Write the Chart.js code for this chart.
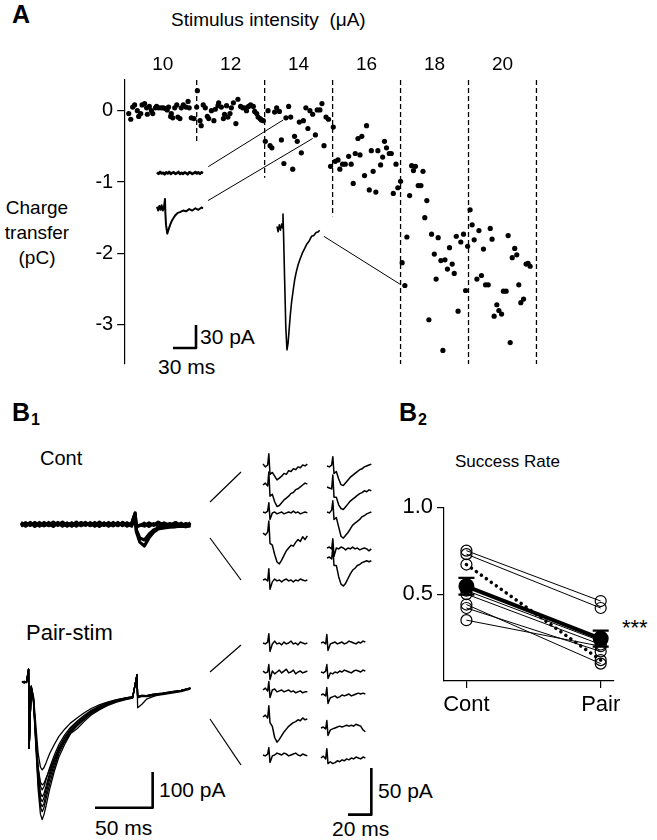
<!DOCTYPE html>
<html>
<head>
<meta charset="utf-8">
<script src="https://cdn.jsdelivr.net/npm/chart.js@4.4.1/dist/chart.umd.min.js"></script>
<style>
  body { margin: 0; width: 657px; height: 840px; position: relative; background: #fff; overflow: hidden;
         font-family: "Liberation Sans", Arial, sans-serif; color: #000; }
  canvas { position: absolute; }
  .t { position: absolute; line-height: 1; white-space: pre; }
  .b { font-weight: bold; }
</style>
</head>
<body>
<div class="t b" style="left:12px;top:2px;font-size:25px">A</div>
<div class="t" style="left:171px;top:10px;font-size:19px">Stimulus intensity  (μA)</div>
<div class="t" style="left:0;top:195px;width:74px;text-align:center;font-size:19px;line-height:25px">Charge
transfer
(pC)</div>
<div class="t" style="left:200px;top:326px;font-size:21px">30 pA</div>
<div class="t" style="left:158px;top:356px;font-size:21px">30 ms</div>

<div class="t b" style="left:12px;top:400px;font-size:25px">B</div>
<div class="t b" style="left:31px;top:412px;font-size:16px">1</div>
<div class="t" style="left:40px;top:448px;font-size:20px">Cont</div>
<div class="t" style="left:26px;top:622px;font-size:22px">Pair-stim</div>
<div class="t" style="left:159px;top:779px;font-size:21px">100 pA</div>
<div class="t" style="left:95px;top:817px;font-size:21px">50 ms</div>
<div class="t" style="left:378px;top:780px;font-size:21px">50 pA</div>
<div class="t" style="left:332px;top:818px;font-size:21px">20 ms</div>

<div class="t b" style="left:399px;top:400px;font-size:25px">B</div>
<div class="t b" style="left:418px;top:412px;font-size:16px">2</div>
<div class="t" style="left:455px;top:453px;font-size:17px">Success Rate</div>
<div class="t" style="left:622px;top:617px;font-size:22px">***</div>

<svg width="657" height="840" style="position:absolute;left:0;top:0">
  <g stroke="#000" stroke-width="1.2">
    <line x1="210" y1="502" x2="241" y2="472"/>
    <line x1="210" y1="538" x2="241" y2="580"/>
    <line x1="210" y1="672" x2="241" y2="645"/>
    <line x1="210" y1="719" x2="241" y2="765"/>
  </g>
</svg>

<canvas id="chartA" width="545" height="380" style="left:0;top:0"></canvas>
<canvas id="chartB2" width="235" height="240" style="left:390px;top:490px"></canvas>

<script>
Chart.defaults.font.family = '"Liberation Sans", Arial, sans-serif';
Chart.defaults.color = '#000';

// ---- A: charge transfer per trial, blocks of 30 trials per intensity
const intensity = [10, 12, 14, 16, 18, 20];
const blockEdges = [30, 60, 90, 120, 150, 180];
const edgeBottom = [-0.45, -0.94, -1.48, -3.55, -3.55, -3.55];
const chargeTicks = [0, -1, -2, -3];

const trial10 = [0,0.9,1.75,2.6,3.8,4.4,5.3,5.9,7.0,7.9,8.2,9.1,10.0,10.6,11.8,12.3,13.2,14.4,15.3,16.2,17.0,17.6,18.5,18.8,19.4,20.3,21.2,21.7,22.6,23.2,24.1,25.3,26.2,26.7,27.6,28.8];
const charge10 = [-0.04,-0.12,0.05,0.08,0.0,-0.08,-0.04,0.08,0.10,0.04,-0.05,0.06,0.0,-0.04,0.04,0.06,0.04,0.04,0.04,0.03,0.01,0.05,-0.08,-0.04,-0.10,0.04,0.08,-0.09,-0.11,0.04,0.08,0.05,0.13,0.04,-0.10,-0.11];
const trial12 = [30.0,30.3,31.5,32.0,32.9,33.8,34.7,35.3,36.5,37.6,38.2,39.4,39.7,40.9,41.8,42.3,43.2,43.8,44.7,45.3,46.2,47.3,48.2,49.4,50.3,51.2,52.0,52.9,53.8,55.0,55.6,56.5,57.1,58.0,58.5,59.4];
const charge12 = [0.05,0.28,-0.14,-0.21,0.08,0.04,-0.08,-0.11,0.0,-0.14,0.02,0.07,0.11,0.05,-0.11,-0.05,0.07,-0.09,-0.04,0.04,0.11,-0.18,0.16,0.06,0.04,0.04,0.0,0.06,0.08,0.06,-0.01,-0.04,-0.09,-0.11,-0.13,-0.14];
const trial14 = [60.3,61.5,62.4,63.2,64.4,65.3,66.5,67.4,68.5,69.4,70.6,71.5,72.4,73.2,74.4,75.3,76.2,77.1,78.2,79.1,80.0,81.2,82.4,83.2,84.4,85.3,86.2,87.1,88.2,89.1];
const charge14 = [-0.43,0.0,-0.49,-0.52,-0.02,0.04,-0.01,-0.41,-0.74,-0.10,0.06,-0.09,-0.82,-0.36,-0.43,-0.16,-0.59,-0.14,0.04,-0.25,0.0,-0.05,-0.34,0.01,0.01,0.10,-0.49,-0.09,-0.12,-0.78];
const trial16 = [90.3,91.2,92.4,93.2,94.4,95.6,97.1,98.2,99.1,100.0,101.2,102.1,102.9,104.1,105.0,106.2,107.1,107.9,109.1,110.0,111.2,112.1,112.9,113.8,115.0,115.9,116.8,118.0,118.8,120.0];
const charge16 = [-0.23,-0.71,-0.69,-0.82,-0.75,-0.75,-0.64,-0.75,-1.02,-0.60,-0.39,-0.62,-0.36,-0.91,-0.21,-1.11,-0.56,-0.85,-1.14,-0.56,-0.76,-0.65,-0.43,-0.52,-0.60,-0.60,-1.16,-0.75,-1.08,-0.99];
const trial18 = [120.7,121.9,122.8,124.0,124.9,125.7,126.6,127.8,129.0,129.9,130.7,131.6,132.5,133.7,134.9,135.7,136.6,137.8,138.7,139.6,140.7,141.6,142.8,143.7,144.6,145.4,146.6,147.8,148.7,149.6];
const charge18 = [-2.13,-2.45,-1.77,-1.19,-0.77,-0.84,-0.78,-1.05,-1.05,-0.85,-1.50,-1.26,-2.93,-1.73,-2.01,-2.36,-1.78,-2.10,-3.36,-2.09,-2.22,-1.92,-2.15,-2.28,-1.76,-2.81,-1.84,-1.73,-2.52,-1.90];
const trial20 = [150.7,151.6,152.5,153.7,154.6,155.7,156.6,157.5,158.7,159.6,160.4,161.3,162.5,163.4,164.6,165.4,166.6,167.5,168.4,169.3,170.4,171.3,172.2,173.1,174.3,175.4,176.3,177.2];
const charge20 = [-1.39,-1.60,-1.81,-2.36,-1.68,-2.31,-1.94,-2.44,-2.44,-1.65,-1.80,-2.88,-2.72,-2.80,-2.85,-2.53,-2.53,-1.75,-3.25,-2.06,-1.93,-2.02,-2.44,-2.69,-2.64,-2.15,-2.14,-2.18];

// links from example traces to their trials [trialFrom, pCFrom, trialTo, pCTo]
const linkA = [[35.1, -0.785, 68.2, -0.13], [35.0, -1.26, 81.2, -0.39], [86.1, -1.76, 119.7, -2.43]];

// example traces in A (ms, pA)
const tFail = [0,2,4,6,8,10,12,14,16,18,20,22,24,26,28,30,32,34,36,38,40,42,44,46,48,50,52,54,56,58,60];
const iFail = [1,-1,1.5,-0.5,0.5,-1.5,1,-0.5,1.5,-1,0.5,1,-1,0,1.5,-1,0.5,-1,1,0,-1.5,1,0.5,-1,0,1.5,-0.5,1,-1,1,0];
const tSmallA = [0,1.5,3,4.5,6,7.5,9,10.4,10.9,11.8,13.4,15,17,19,21.3,24,27,30,34,38,42,46,50,54,58,60];
const iSmallA = [2,-3,3,-2,4,-3,1,12,-6,-22,-33,-28,-22,-17,-13,-9,-6,-5,-3,-4,-1,-3,0,-2,1,0];
const tLargeA = [0,1.5,3,4.5,6,7.2,7.8,8.6,10,11.5,13,14.5,16,17.5,19,21,23,25,27.5,30,33,36,39,42,45,48,51,54,55.5];
const iLargeA = [2,-5,4,-3,5,0,18,-10,-70,-130,-159,-150,-130,-112,-97,-82,-68,-58,-48,-41,-33,-27,-21,-17,-11,-10,-6,-5,-3];

// ---- B1: overlaid traces (ms, pA)
const contT = [0,4,8,12,16,20,24,28,32,36,40,44,48,52,56,60,64,68,72,76,80,84,88,92,96,99,100,103,107,111,115,119,124,129,134,139,143,147];
const contA = [4,-5,4,-3,5,-4,2,-6,5,-3,3,-5,4,-2,5,-4,3,-6,3,-4,5,-3,4,-5,2,32,-20,-50,-61,-38,-22,-13,-10,-8,-7,-5,-7,-4];
const contB = [-4,4,-3,5,-5,3,-4,4,-2,6,-4,3,-5,3,-3,4,-5,2,-3,5,-4,3,-2,4,-3,28,-15,-38,-44,-28,-16,-10,-7,-6,-4,-6,-2,-5];
const contC = [5,-3,5,-6,2,-4,5,-3,4,-5,3,-4,6,-4,2,-3,5,-3,4,-5,3,-4,5,-2,3,30,-6,-4,3,-6,2,-5,4,-3,5,-4,2,-3];
const contD = [-5,4,-2,4,-4,5,-3,6,-3,2,-5,4,-3,5,-2,4,-4,6,-3,2,-4,5,-4,3,-5,25,-8,-2,-5,4,-3,6,-4,2,-5,3,-6,4];

const pairT = [0,2,4,5.7,6.2,8,10,12,14,16,17.5,19,21,24,28,32,37,42,48,54,60,67,74,82,90,96,99.7,100.3,104,108,114,122,130,138,146];
const pair1 = [2,-3,1,36,-186,-15,-60,-180,-300,-370,-385,-372,-345,-300,-250,-210,-175,-145,-130,-110,-92,-78,-66,-56,-49,-45,20,-44,-40,-41,-38,-35,-31,-27,-20];
const pair2 = [-2,2,0,36,-186,-12,-55,-170,-285,-350,-363,-352,-325,-285,-240,-200,-168,-142,-122,-104,-88,-75,-63,-54,-47,-43,20,-42,-39,-40,-36,-33,-29,-25,-18];
const pair3 = [1,-1,2,36,-186,-14,-50,-160,-265,-325,-335,-325,-300,-262,-222,-188,-158,-135,-116,-99,-84,-71,-61,-52,-46,-42,20,-41,-38,-39,-35,-32,-28,-24,-17];
const pair4 = [0,2,-2,36,-186,-10,-45,-145,-240,-292,-302,-294,-272,-240,-205,-175,-148,-127,-109,-93,-79,-67,-58,-50,-44,-41,20,-40,-37,-38,-34,-31,-27,-23,-16];
const pair5 = [-1,1,2,36,-186,-16,-48,-150,-240,-280,-288,-284,-268,-245,-215,-190,-165,-142,-122,-104,-88,-74,-63,-54,-48,-44,20,-72,-62,-48,-40,-33,-28,-24,-18];
const pair6 = [2,0,-1,36,-186,-12,-40,-120,-200,-238,-246,-240,-225,-200,-175,-152,-132,-115,-100,-86,-74,-64,-56,-49,-44,-41,20,-40,-37,-38,-34,-31,-27,-23,-17];
const pair7 = [0,-2,1,36,-186,-13,-52,-165,-275,-338,-349,-340,-312,-272,-230,-194,-163,-139,-119,-101,-85,-72,-61,-53,-46,-43,20,-42,-39,-40,-36,-33,-29,-25,-18];
const pair8 = [1,0,-1,36,-186,-14,-48,-152,-255,-310,-321,-313,-290,-254,-215,-182,-154,-131,-112,-96,-81,-69,-59,-51,-45,-42,20,-41,-38,-39,-35,-32,-28,-24,-17];

// ---- B1: single sweeps, 5 per column (ms, pA)
const sweepT = [0,2,4,5,6,8,10,12,14,16,18,20,22,24,26,28,30,32,34,36,38];
const contCol1 = [
  [1,-2,0,12,-10,-8,-12,-16,-14,-12,-9,-10,-6,-7,-4,-5,-2,-3,0,-1,1],
  [0,2,-1,14,-12,-10,-18,-23,-22,-19,-16,-14,-12,-9,-8,-5,-4,-2,0,2,1],
  [0,-1,1,10,-8,-1,0,-2,-1,0,-2,-1,0,-1,1,-1,0,-2,-1,0,-1],
  [1,-1,2,14,-10,-12,-22,-30,-32,-28,-23,-18,-15,-12,-13,-9,-6,-8,-3,-6,-2],
  [0,1,-1,12,-10,-2,1,-1,0,-2,0,1,-1,0,-2,0,-1,1,0,-1,0]
];
const contCol2 = [
  [0,-1,1,10,-8,-6,-14,-20,-21,-18,-15,-12,-10,-8,-6,-4,-3,-1,0,1,2],
  [1,0,-1,14,-10,-10,-18,-22,-23,-20,-17,-14,-12,-10,-8,-6,-5,-3,-4,-2,-3],
  [0,-1,2,12,-8,-6,-16,-26,-28,-25,-22,-18,-14,-12,-10,-8,-5,-4,-2,-1,0],
  [0,1,-1,10,-9,0,-1,1,0,-2,0,-1,1,-1,0,-2,-1,0,-1,-3,-1],
  [0,1,-1,12,-8,-8,-20,-28,-30,-27,-22,-17,-13,-11,-8,-7,-5,-4,-3,-4,-3]
];
const pairCol1 = [
  [0,-1,1,10,-9,-1,2,-1,0,-2,1,-1,0,2,-1,0,-2,1,0,-1,0],
  [1,-1,0,8,-8,1,-2,0,2,-1,1,3,-1,0,2,-2,0,1,-1,0,1],
  [0,2,-1,9,-8,0,1,-2,-1,0,-2,-1,0,-2,-1,-3,-2,-1,-3,-2,-2],
  [0,2,-1,12,-6,-10,-22,-27,-24,-20,-16,-13,-10,-8,-6,-5,-3,-4,-1,-3,-2],
  [0,-1,1,8,-8,-1,0,2,1,0,2,1,-1,0,1,2,0,-1,1,0,-1]
];
const pairCol2 = [
  [0,1,-1,9,-8,-1,0,1,-1,0,1,-1,0,2,1,0,-1,1,0,2,1],
  [0,-1,1,8,-7,-1,-2,0,-1,1,0,2,1,0,-1,1,2,1,0,2,1],
  [0,1,-1,8,-9,-3,-2,-1,-3,-2,0,-1,0,1,-1,0,1,2,1,2,1],
  [0,1,-1,8,-8,-2,-1,0,1,2,1,2,3,2,3,2,4,3,2,-2,-4],
  [0,2,-1,10,-6,-4,-6,-5,-3,-4,-2,-3,-1,-2,0,-1,1,0,-1,1,0]
];

// ---- B2: success rate
const groups = ['Cont', 'Pair'];
const rateCont = [0.75, 0.73, 0.52, 0.50, 0.44, 0.42, 0.35];
const ratePair = [0.46, 0.42, 0.23, 0.21, 0.10, 0.17, 0.20];
const dottedCell = [0.67, 0.12];
const meanRate = [0.545, 0.244];
const semRate = [0.048, 0.046];

// ================= drawing =================
const blocks = [[trial10, charge10], [trial12, charge12], [trial14, charge14],
                [trial16, charge16], [trial18, charge18], [trial20, charge20]];
const blockCentres = blockEdges.map(e => e - 15);
const yMaxA = 0.43, yMinA = -3.55;

const dsA = [];
const dots = [];
blocks.forEach(([xs, ys]) => xs.forEach((x, i) => dots.push({ x: x, y: ys[i] })));
dsA.push({ data: dots, pointRadius: 2.6, pointBackgroundColor: '#000', pointBorderWidth: 0 });
blockEdges.forEach((e, i) => dsA.push({
  data: [{ x: e, y: yMaxA }, { x: e, y: edgeBottom[i] }], showLine: true, pointRadius: 0,
  borderColor: '#000', borderWidth: 1.3, borderDash: [5, 3]
}));
linkA.forEach(l => dsA.push({
  data: [{ x: l[0], y: l[1] }, { x: l[2], y: l[3] }], showLine: true, pointRadius: 0,
  borderColor: '#000', borderWidth: 1
}));

new Chart(document.getElementById('chartA'), {
  type: 'scatter',
  data: { datasets: dsA },
  options: {
    animation: false, responsive: false, events: [],
    layout: { padding: { left: 0, top: 0, right: 3.2, bottom: 4.4 } },
    plugins: { legend: { display: false }, tooltip: { enabled: false } },
    scales: {
      x: { type: 'linear', min: -2, max: 182, display: false },
      xTop: {
        type: 'linear', position: 'top', min: -2, max: 182,
        grid: { display: false, drawTicks: false }, border: { display: false },
        afterBuildTicks: a => { a.ticks = blockCentres.map(v => ({ value: v })); },
        ticks: { font: { size: 19 }, padding: 4, autoSkip: false, maxRotation: 0,
                 callback: (v, i) => String(intensity[i]) },
        afterFit: a => { a.height = 80; }
      },
      y: {
        type: 'linear', min: yMinA, max: yMaxA,
        afterBuildTicks: a => { a.ticks = chargeTicks.map(v => ({ value: v })); },
        ticks: { font: { size: 20 }, padding: 4, callback: v => String(v) },
        grid: { drawOnChartArea: false, tickLength: 7, color: '#000', lineWidth: 1.2 },
        border: { color: '#000', width: 1.2 },
        afterFit: a => { a.width = 124.2; }
      }
    }
  }
});

// small chart for a trace: (x0,y0) = page pixel of (0 ms, 0 pA), sx/sy = px per unit
function traceChart(x0, y0, sx, sy, xr, yr, series, width) {
  const m = 4;
  const c = document.createElement('canvas');
  const w = Math.ceil((xr[1] - xr[0]) * sx) + 2 * m;
  const h = Math.ceil((yr[1] - yr[0]) * sy) + 2 * m;
  c.width = w; c.height = h;
  c.style.left = (x0 + xr[0] * sx - m) + 'px';
  c.style.top = (y0 - yr[1] * sy - m) + 'px';
  document.body.appendChild(c);
  new Chart(c, {
    type: 'scatter',
    data: { datasets: series.map(s => ({
      data: s.t.map((t, i) => ({ x: t, y: s.v[i] })), showLine: true, pointRadius: 0,
      borderColor: '#000', borderWidth: s.w || width, clip: false, borderJoinStyle: 'round'
    })) },
    options: {
      animation: false, responsive: false, events: [],
      layout: { padding: m },
      plugins: { legend: { display: false }, tooltip: { enabled: false } },
      scales: {
        x: { type: 'linear', display: false, min: xr[0], max: xr[0] + (w - 2 * m) / sx },
        y: { type: 'linear', display: false, max: yr[1], min: yr[1] - (h - 2 * m) / sy }
      }
    }
  });
}

// A: example traces and scale bar (30 ms / 30 pA)
const sA = 0.767;
traceChart(157, 173, sA, sA, [0, 60], [-8, 8], [{ t: tFail, v: iFail }], 2.6);
traceChart(157, 208, sA, sA, [0, 60], [-40, 16], [{ t: tSmallA, v: iSmallA }], 2);
traceChart(276.7, 228, sA, sA, [0, 56], [-165, 22], [{ t: tLargeA, v: iLargeA }], 1.6);
traceChart(173, 348, sA, sA, [0, 30], [0, 30], [{ t: [0, 30, 30], v: [0, 0, 30] }], 2.6);

// B1: overlays and scale bar (50 ms / 100 pA)
const sxB = 1.153, syB = 0.357;
traceChart(20.7, 524.3, sxB, syB, [0, 148], [-70, 40],
  [contA, contB, contC, contD].map(v => ({ t: contT, v: v })), 3.2);
traceChart(21.7, 682, sxB, syB, [0, 147], [-395, 45],
  [pair1, pair2, pair3, pair4, pair5, pair6, pair7, pair8].map(v => ({ t: pairT, v: v })), 1.3);
traceChart(95, 807.3, sxB, syB, [0, 50], [0, 100], [{ t: [0, 50, 50], v: [0, 0, 100] }], 2.6);

// B1: single sweeps and scale bar (20 ms / 50 pA)
const sxS = 1.167, syS = 0.933;
const sweepCols = [
  { left: 263, rows: [465, 485, 512, 534, 580], sweeps: contCol1 },
  { left: 327, rows: [466, 488, 512, 548, 558], sweeps: contCol2 },
  { left: 263, rows: [643, 672, 690, 717, 755], sweeps: pairCol1 },
  { left: 321, rows: [643, 672, 695, 728, 758], sweeps: pairCol2 }
];
sweepCols.forEach(col => col.sweeps.forEach((v, r) =>
  traceChart(col.left, col.rows[r], sxS, syS, [0, 38], [-34, 15], [{ t: sweepT, v: v }], 1.5)));
traceChart(348.3, 815, sxS, syS, [0, 20], [0, 50], [{ t: [0, 20, 20], v: [0, 0, 50] }], 2.6);

// B2
const errorBars = {
  id: 'errorBars',
  afterDatasetsDraw(chart) {
    const { ctx, scales: { x, y } } = chart;
    ctx.save();
    ctx.strokeStyle = '#000';
    ctx.lineWidth = 2.2;
    meanRate.forEach((m, i) => {
      const px = x.getPixelForValue(i);
      const top = y.getPixelForValue(m + semRate[i]);
      const bot = y.getPixelForValue(m - semRate[i]);
      ctx.beginPath();
      ctx.moveTo(px, top); ctx.lineTo(px, bot);
      ctx.moveTo(px - 8, top); ctx.lineTo(px + 8, top);
      ctx.moveTo(px - 8, bot); ctx.lineTo(px + 8, bot);
      ctx.stroke();
    });
    ctx.restore();
  }
};

const dsB2 = rateCont.map((c, i) => ({
  data: [{ x: 0, y: c }, { x: 1, y: ratePair[i] }], showLine: true,
  borderColor: '#000', borderWidth: 1, pointRadius: 5.5, pointBorderWidth: 1.2,
  pointBorderColor: '#000', pointBackgroundColor: 'rgba(255,255,255,0)', clip: false
}));
dsB2.push({
  data: [{ x: 0, y: dottedCell[0] }, { x: 1, y: dottedCell[1] }], showLine: true,
  borderColor: '#000', borderWidth: 3.5, borderDash: [0.1, 6], borderCapStyle: 'round',
  pointRadius: 5.5, pointBorderWidth: 1.2, pointBorderColor: '#000',
  pointBackgroundColor: 'rgba(255,255,255,0)', clip: false
});
dsB2.push({
  data: meanRate.map((m, i) => ({ x: i, y: m })), showLine: true,
  borderColor: '#000', borderWidth: 4, pointRadius: 6, pointBackgroundColor: '#000',
  pointBorderColor: '#000', clip: false
});

new Chart(document.getElementById('chartB2'), {
  type: 'scatter',
  data: { datasets: dsB2 },
  plugins: [errorBars],
  options: {
    animation: false, responsive: false, events: [],
    layout: { padding: { left: 0, top: 10, right: 7, bottom: 0 } },
    plugins: { legend: { display: false }, tooltip: { enabled: false } },
    scales: {
      x: {
        type: 'linear', min: -0.167, max: 1.094,
        afterBuildTicks: a => { a.ticks = [{ value: 0 }, { value: 1 }]; },
        ticks: { font: { size: 22 }, padding: 4, autoSkip: false, maxRotation: 0,
                 callback: (v, i) => groups[i] },
        grid: { drawOnChartArea: false, tickLength: 7, color: '#000', lineWidth: 1.2 },
        border: { color: '#000', width: 1.2 },
        afterFit: a => { a.height = 49; }
      },
      y: {
        type: 'linear', min: 0, max: 1,
        afterBuildTicks: a => { a.ticks = [{ value: 0.5 }, { value: 1 }]; },
        ticks: { font: { size: 22 }, padding: 4, callback: v => v.toFixed(1) },
        grid: { drawOnChartArea: false, tickLength: 7, color: '#000', lineWidth: 1.2 },
        border: { color: '#000', width: 1.2 },
        afterFit: a => { a.width = 54; }
      }
    }
  }
});
</script>
</body>
</html>
